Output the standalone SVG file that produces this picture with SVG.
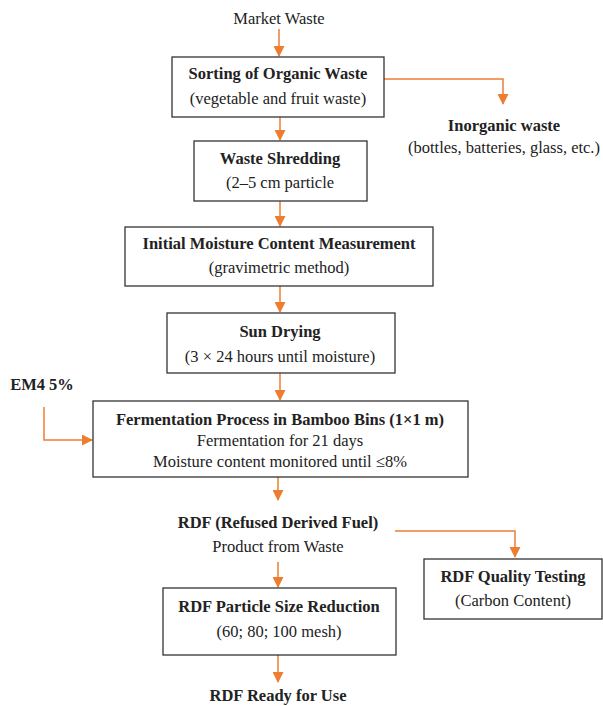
<svg xmlns="http://www.w3.org/2000/svg" width="603" height="706" viewBox="0 0 603 706">
<style>
.box{fill:#fff;stroke:#333;stroke-width:1.3}
.t{font-family:"Liberation Serif","DejaVu Serif",serif;font-size:16.5px;fill:#222;text-anchor:middle}
.b{font-weight:bold}
.c{fill:none;stroke:#ED7D31;stroke-width:1.5}
</style>
<defs>
<marker id="ah" markerWidth="11" markerHeight="11" refX="10" refY="5.5" orient="auto" markerUnits="userSpaceOnUse">
<path d="M0,0 L11,5.5 L0,11 Z" fill="#ED7D31"/>
</marker>
</defs>
<rect width="603" height="706" fill="#fff"/>
<g id="connectors">
<line class="c" x1="279" y1="29" x2="279" y2="56" marker-end="url(#ah)"/>
<polyline class="c" points="384,79 503,79 503,104" marker-end="url(#ah)"/>
<line class="c" x1="280" y1="117" x2="280" y2="140" marker-end="url(#ah)"/>
<line class="c" x1="280" y1="201" x2="280" y2="226" marker-end="url(#ah)"/>
<line class="c" x1="280" y1="286" x2="280" y2="312" marker-end="url(#ah)"/>
<line class="c" x1="280" y1="373" x2="280" y2="400" marker-end="url(#ah)"/>
<polyline class="c" points="44,407 44,440 92,440" marker-end="url(#ah)"/>
<line class="c" x1="278" y1="473" x2="278" y2="500" marker-end="url(#ah)"/>
<polyline class="c" points="395,531 515,531 515,557" marker-end="url(#ah)"/>
<line class="c" x1="278" y1="562" x2="278" y2="587" marker-end="url(#ah)"/>
<line class="c" x1="278" y1="655" x2="278" y2="682" marker-end="url(#ah)"/>
</g>
<g id="market">
<text class="t" x="279" y="24">Market Waste</text>
</g>
<g id="sorting">
<rect class="box" x="172" y="57" width="212" height="60"/>
<text class="t b" x="278" y="79">Sorting of Organic Waste</text>
<text class="t" x="278" y="104">(vegetable and fruit waste)</text>
</g>
<g id="inorganic">
<text class="t b" x="504" y="131">Inorganic waste</text>
<text class="t" x="504" y="153">(bottles, batteries, glass, etc.)</text>
</g>
<g id="shredding">
<rect class="box" x="194" y="141" width="173" height="60"/>
<text class="t b" x="280" y="164">Waste Shredding</text>
<text class="t" x="280" y="188">(2–5 cm particle</text>
</g>
<g id="moisture">
<rect class="box" x="125" y="227" width="308" height="59"/>
<text class="t b" x="279" y="249">Initial Moisture Content Measurement</text>
<text class="t" x="279" y="273">(gravimetric method)</text>
</g>
<g id="sundrying">
<rect class="box" x="167" y="313" width="228" height="60"/>
<text class="t b" x="280" y="337">Sun Drying</text>
<text class="t" x="280" y="362">(3 × 24 hours until moisture)</text>
</g>
<g id="em4">
<text class="t b" x="42" y="390">EM4 5%</text>
</g>
<g id="fermentation">
<rect class="box" x="93" y="401" width="375" height="76"/>
<text class="t b" x="280" y="425">Fermentation Process in Bamboo Bins (1×1 m)</text>
<text class="t" x="280" y="446">Fermentation for 21 days</text>
<text class="t" x="280" y="467">Moisture content monitored until ≤8%</text>
</g>
<g id="rdf">
<text class="t b" x="278" y="528">RDF (Refused Derived Fuel)</text>
<text class="t" x="278" y="552">Product from Waste</text>
</g>
<g id="quality">
<rect class="box" x="424" y="559" width="178" height="60"/>
<text class="t b" x="513" y="582">RDF Quality Testing</text>
<text class="t" x="513" y="606">(Carbon Content)</text>
</g>
<g id="reduction">
<rect class="box" x="163" y="588" width="233" height="67"/>
<text class="t b" x="279" y="612">RDF Particle Size Reduction</text>
<text class="t" x="279" y="637">(60; 80; 100 mesh)</text>
</g>
<g id="ready">
<text class="t b" x="278" y="701">RDF Ready for Use</text>
</g>
</svg>
